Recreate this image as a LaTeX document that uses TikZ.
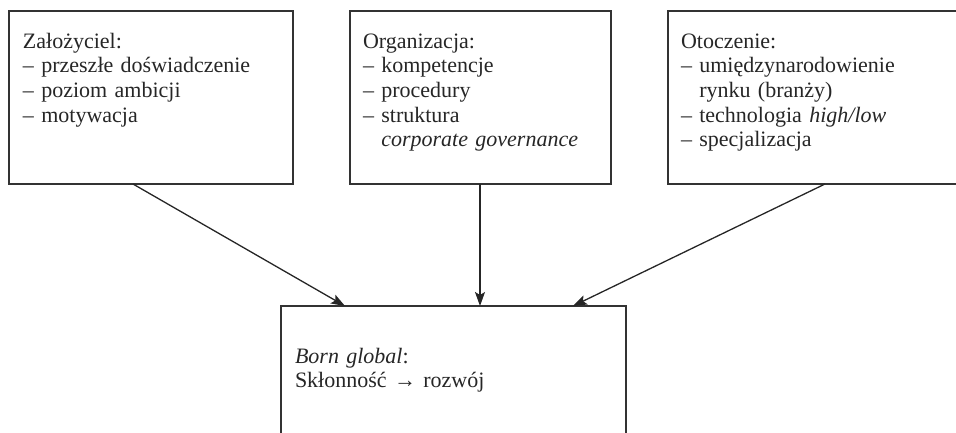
\documentclass[tikz,border=0pt]{standalone}
\usepackage{fontspec}
\setmainfont{Liberation Serif}
\usetikzlibrary{arrows.meta}
\begin{document}
\begin{tikzpicture}[x=1pt,y=-1pt,
  box/.style={draw=black!80,line width=1.4pt,inner sep=0pt,outer sep=0pt,rectangle},
  txt/.style={anchor=base west,inner sep=0pt,outer sep=0pt,text width=300pt,align=left,font=\fontsize{22}{24.7}\selectfont,text=black!85},
  conn/.style={draw=black!85,line width=1.3pt,-{Stealth[length=14pt,width=10pt,inset=3pt]}}]
\useasboundingbox (0,0) rectangle (956,432);
\clip (0,0) rectangle (956,432);
\node[box,minimum width=284pt,minimum height=173pt] (L) at (151,97.5) {};
\node[box,minimum width=261pt,minimum height=173pt] (M) at (480.5,97.5) {};
\node[box,minimum width=302pt,minimum height=173pt] (R) at (819,97.5) {};
\node[box,minimum width=345pt,minimum height=144pt] (B) at (453.5,378) {};
\node[txt] (Lt) at (23,48) {Założyciel:\\– przeszłe doświadczenie\\– poziom ambicji\\– motywacja};
\node[txt] (Mt) at (363,48) {Organizacja:\\– kompetencje\\– procedury\\– struktura\\\phantom{– }\textit{corporate governance}};
\node[txt] (Rt) at (681,48) {Otoczenie:\\– umiędzynarodowienie\\\phantom{– }rynku (branży)\\– technologia \textit{high/low}\\– specjalizacja};
\node[txt] (Bt) at (295,363) {\textit{Born global}:\\Skłonność → rozwój};
\draw[conn] ([xshift=124pt]L.south west) -- ([xshift=64pt]B.north west);
\draw[conn] ([xshift=-0.5pt]M.south) -- ([xshift=199pt]B.north west);
\draw[conn] ([xshift=157pt]R.south west) -- ([xshift=292pt]B.north west);
\end{tikzpicture}
\end{document}
